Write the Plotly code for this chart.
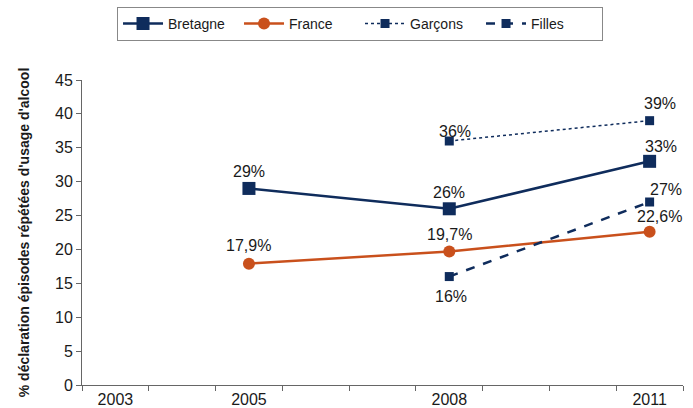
import plotly.graph_objects as go

# Survey years on the category axis (one slot per year)
years = ["2003", "2004", "2005", "2006", "2007", "2008", "2009", "2010", "2011"]
shown_years = ["2003", "2005", "2008", "2011"]

bretagne_x = ["2005", "2008", "2011"]
bretagne_y = [29, 26, 33]
bretagne_lbl = ["29%", "26%", "33%"]

france_x = ["2005", "2008", "2011"]
france_y = [17.9, 19.7, 22.6]
france_lbl = ["17,9%", "19,7%", "22,6%"]

garcons_x = ["2008", "2011"]
garcons_y = [36, 39]
garcons_lbl = ["36%", "39%"]

filles_x = ["2008", "2011"]
filles_y = [16, 27]
filles_lbl = ["16%", "27%"]

NAVY = "#0F2C5C"
ORANGE = "#C9501C"
AXIS = "#666666"
FONT = "Liberation Sans, Arial, sans-serif"

fig = go.Figure()
fig.add_trace(go.Scatter(x=bretagne_x, y=bretagne_y, name="Bretagne", mode="lines+markers",
                         line=dict(color=NAVY, width=2.5),
                         marker=dict(symbol="square", size=13, color=NAVY)))
fig.add_trace(go.Scatter(x=france_x, y=france_y, name="France", mode="lines+markers",
                         line=dict(color=ORANGE, width=2.5),
                         marker=dict(symbol="circle", size=12, color=ORANGE)))
fig.add_trace(go.Scatter(x=garcons_x, y=garcons_y, name="Garçons", mode="lines+markers",
                         line=dict(color=NAVY, width=1.5, dash="dot"),
                         marker=dict(symbol="square", size=9, color=NAVY)))
fig.add_trace(go.Scatter(x=filles_x, y=filles_y, name="Filles", mode="lines+markers",
                         line=dict(color=NAVY, width=2.5, dash="dash"),
                         marker=dict(symbol="square", size=9, color=NAVY)))

# Value labels: (category, y, text, x offset px, y offset px)
labels = []
labels += list(zip(bretagne_x, bretagne_y, bretagne_lbl, [0, 0, 11], [17, 16, 15]))
labels += list(zip(france_x, france_y, france_lbl, [0, 0, 10], [18, 17, 15]))
labels += list(zip(garcons_x, garcons_y, garcons_lbl, [6, 10], [10, 17]))
labels += list(zip(filles_x, filles_y, filles_lbl, [2, 16], [-20, 13]))
for x, y, t, dx, dy in labels:
    fig.add_annotation(x=years.index(x), y=y, xref="x", yref="y", text=t,
                       showarrow=False, xshift=dx, yshift=dy,
                       font=dict(family=FONT, size=16, color="#1a1a1a"))

fig.update_layout(
    width=693, height=408,
    margin=dict(l=82, r=10, t=80, b=23, autoexpand=False),
    paper_bgcolor="white", plot_bgcolor="white",
    font=dict(family=FONT, size=14, color="#1a1a1a"),
    showlegend=True,
    legend=dict(orientation="h", x=0.4626, xanchor="center", y=1.24, yanchor="top",
                bordercolor="#888888", borderwidth=1, bgcolor="white",
                font=dict(family=FONT, size=14, color="#1a1a1a"),
                entrywidth=66, entrywidthmode="pixels", itemwidth=40),
    xaxis=dict(type="category", categoryorder="array", categoryarray=years,
               range=[-0.5, len(years) - 0.5],
               tickmode="array", tickvals=years,
               ticktext=[y if y in shown_years else "" for y in years],
               tickson="boundaries", ticks="outside", ticklen=5, tickcolor=AXIS,
               showline=True, linecolor=AXIS, linewidth=1,
               showgrid=False, zeroline=False, automargin=False,
               tickfont=dict(family=FONT, size=16)),
    yaxis=dict(range=[0, 45], dtick=5, ticks="outside", ticklen=5, tickcolor=AXIS,
               showline=True, linecolor=AXIS, linewidth=1,
               showgrid=False, zeroline=False, automargin=False,
               tickfont=dict(family=FONT, size=16),
               title=dict(text="<b>% déclaration épisodes répétées d'usage d'alcool</b>",
                          font=dict(family=FONT, size=14), standoff=22)),
)

fig.write_html("out.html")
